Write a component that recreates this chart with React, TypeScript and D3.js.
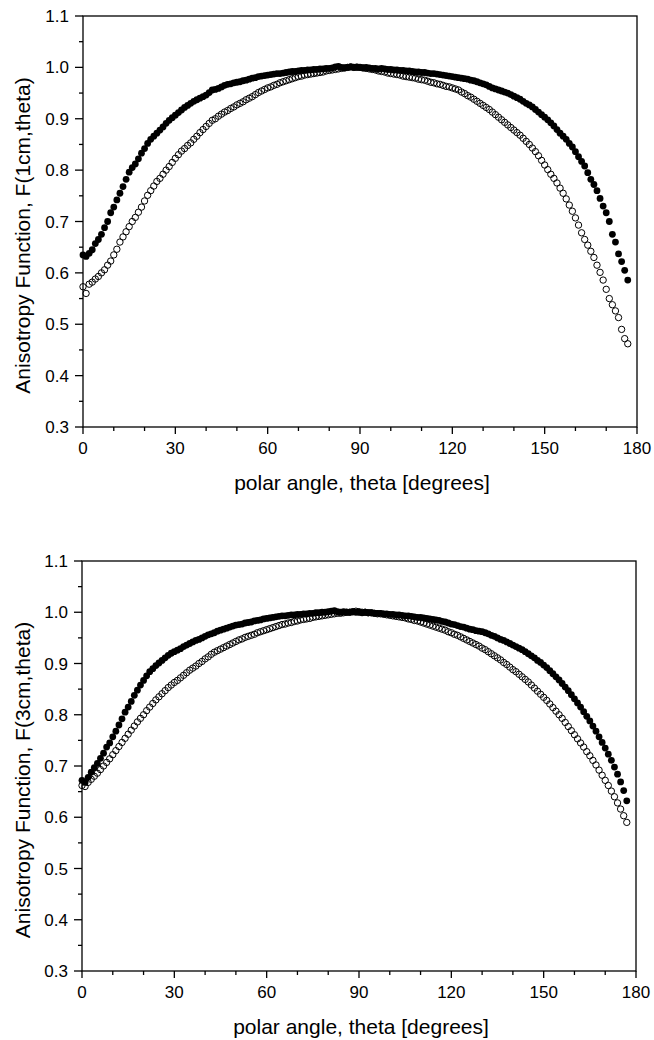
import React from "react";
import * as d3 from "d3";

const angles: number[] = d3.range(0, 178, 1);

const top1cmFilled: number[] = [
  0.635,0.632,0.638,0.645,0.657,0.665,0.675,0.688,0.700,0.717,
  0.728,0.742,0.755,0.768,0.782,0.796,0.805,0.812,0.822,0.833,
  0.842,0.852,0.860,0.866,0.872,0.878,0.884,0.891,0.897,0.902,
  0.907,0.912,0.917,0.922,0.926,0.930,0.934,0.937,0.940,0.943,
  0.946,0.951,0.956,0.957,0.959,0.962,0.965,0.967,0.968,0.970,
  0.971,0.972,0.974,0.975,0.977,0.979,0.980,0.982,0.983,0.984,
  0.985,0.986,0.987,0.988,0.988,0.989,0.990,0.991,0.992,0.992,
  0.993,0.994,0.994,0.995,0.995,0.996,0.996,0.997,0.997,0.998,
  0.998,0.999,1.001,1.002,1.000,0.999,1.000,1.001,1.000,1.001,
  1.000,0.999,1.000,0.999,0.998,0.998,0.997,0.998,0.997,0.996,
  0.996,0.995,0.995,0.994,0.994,0.993,0.993,0.992,0.991,0.991,
  0.990,0.990,0.989,0.988,0.988,0.987,0.986,0.985,0.984,0.983,
  0.982,0.981,0.980,0.979,0.978,0.977,0.975,0.974,0.972,0.970,
  0.968,0.966,0.963,0.960,0.958,0.956,0.954,0.952,0.950,0.947,
  0.944,0.941,0.938,0.934,0.930,0.927,0.923,0.918,0.913,0.908,
  0.903,0.898,0.892,0.886,0.879,0.872,0.866,0.860,0.852,0.845,
  0.836,0.826,0.817,0.808,0.795,0.782,0.772,0.760,0.745,0.730,
  0.717,0.700,0.675,0.660,0.637,0.622,0.605,0.586,
];

const top1cmOpen: number[] = [
  0.573,0.560,0.578,0.582,0.588,0.593,0.600,0.606,0.615,0.623,
  0.635,0.646,0.660,0.670,0.680,0.690,0.700,0.708,0.718,0.728,
  0.740,0.751,0.760,0.769,0.778,0.784,0.792,0.800,0.807,0.815,
  0.823,0.830,0.837,0.842,0.848,0.853,0.860,0.866,0.873,0.879,
  0.885,0.891,0.897,0.900,0.905,0.909,0.913,0.916,0.920,0.923,
  0.927,0.930,0.933,0.937,0.940,0.943,0.947,0.951,0.954,0.957,
  0.960,0.962,0.965,0.967,0.970,0.972,0.974,0.976,0.978,0.980,
  0.982,0.983,0.985,0.986,0.987,0.988,0.989,0.990,0.991,0.993,
  0.994,0.995,0.996,0.997,0.998,0.999,1.000,1.001,1.000,1.000,
  1.000,0.999,0.998,0.997,0.996,0.995,0.993,0.992,0.991,0.989,
  0.988,0.987,0.986,0.985,0.983,0.982,0.981,0.980,0.979,0.977,
  0.976,0.975,0.973,0.971,0.970,0.968,0.967,0.965,0.963,0.962,
  0.960,0.958,0.956,0.952,0.949,0.945,0.942,0.938,0.934,0.930,
  0.926,0.922,0.918,0.913,0.908,0.903,0.898,0.893,0.888,0.883,
  0.878,0.873,0.868,0.862,0.856,0.850,0.843,0.836,0.828,0.819,
  0.810,0.801,0.792,0.784,0.775,0.765,0.755,0.744,0.732,0.720,
  0.707,0.693,0.678,0.665,0.654,0.642,0.630,0.615,0.601,0.586,
  0.568,0.550,0.538,0.526,0.513,0.490,0.472,0.462,
];

const bottom3cmFilled: number[] = [
  0.672,0.668,0.678,0.688,0.697,0.705,0.715,0.725,0.737,0.745,
  0.757,0.768,0.780,0.792,0.805,0.815,0.826,0.838,0.848,0.858,
  0.867,0.876,0.884,0.890,0.896,0.901,0.906,0.911,0.916,0.920,
  0.923,0.926,0.929,0.933,0.936,0.939,0.942,0.945,0.947,0.950,
  0.953,0.956,0.958,0.960,0.963,0.965,0.967,0.969,0.971,0.973,
  0.975,0.976,0.977,0.979,0.980,0.981,0.983,0.984,0.985,0.987,
  0.988,0.989,0.990,0.991,0.992,0.993,0.993,0.994,0.995,0.995,
  0.996,0.996,0.997,0.997,0.998,0.998,0.999,0.999,1.000,1.000,
  1.001,1.002,1.003,1.001,1.000,1.001,1.000,1.000,1.001,1.000,
  1.000,0.999,1.000,0.999,0.999,0.998,0.998,0.998,0.997,0.997,
  0.996,0.996,0.995,0.995,0.994,0.993,0.993,0.992,0.991,0.990,
  0.990,0.989,0.988,0.987,0.986,0.985,0.984,0.982,0.981,0.979,
  0.977,0.976,0.974,0.972,0.971,0.969,0.967,0.966,0.964,0.963,
  0.962,0.960,0.958,0.955,0.953,0.950,0.947,0.945,0.942,0.939,
  0.936,0.933,0.930,0.927,0.923,0.919,0.915,0.911,0.906,0.902,
  0.897,0.892,0.886,0.880,0.874,0.868,0.861,0.854,0.847,0.839,
  0.831,0.823,0.815,0.806,0.797,0.788,0.778,0.768,0.757,0.746,
  0.735,0.723,0.711,0.698,0.684,0.669,0.652,0.632,
];

const bottom3cmOpen: number[] = [
  0.662,0.660,0.668,0.674,0.680,0.686,0.693,0.700,0.707,0.714,
  0.722,0.730,0.738,0.746,0.754,0.762,0.770,0.778,0.786,0.793,
  0.800,0.808,0.815,0.822,0.829,0.835,0.841,0.847,0.853,0.858,
  0.863,0.867,0.872,0.877,0.882,0.887,0.891,0.895,0.900,0.904,
  0.909,0.913,0.918,0.922,0.925,0.928,0.931,0.934,0.937,0.940,
  0.943,0.946,0.948,0.951,0.953,0.955,0.957,0.960,0.962,0.964,
  0.966,0.968,0.970,0.972,0.974,0.976,0.977,0.979,0.980,0.982,
  0.983,0.985,0.986,0.987,0.988,0.990,0.991,0.992,0.993,0.994,
  0.995,0.996,0.997,0.998,0.998,0.999,1.000,1.000,1.001,1.002,
  1.001,1.000,1.000,0.999,0.999,0.998,0.997,0.997,0.996,0.995,
  0.994,0.993,0.992,0.991,0.990,0.989,0.987,0.986,0.984,0.983,
  0.981,0.979,0.977,0.975,0.973,0.971,0.969,0.967,0.965,0.962,
  0.960,0.957,0.955,0.952,0.949,0.946,0.943,0.940,0.937,0.934,
  0.930,0.927,0.923,0.919,0.915,0.911,0.907,0.902,0.898,0.893,
  0.888,0.884,0.879,0.874,0.869,0.864,0.858,0.852,0.846,0.840,
  0.834,0.828,0.821,0.814,0.807,0.800,0.793,0.785,0.777,0.769,
  0.761,0.753,0.745,0.737,0.728,0.720,0.711,0.702,0.692,0.682,
  0.672,0.662,0.651,0.640,0.628,0.616,0.603,0.590,
];

const xMajorTicks: number[] = [0, 30, 60, 90, 120, 150, 180];
const xMinorTicks: number[] = [10, 20, 40, 50, 70, 80, 100, 110, 130, 140, 160, 170];
const yMajorTicks: number[] = [0.3, 0.4, 0.5, 0.6, 0.7, 0.8, 0.9, 1.0, 1.1];
const yMinorTicks: number[] = [0.35, 0.45, 0.55, 0.65, 0.75, 0.85, 0.95, 1.05];

const xTitle = "polar angle, theta [degrees]";
const yTitleTop = "Anisotropy Function, F(1cm,theta)";
const yTitleBottom = "Anisotropy Function, F(3cm,theta)";

const FONT = "'Liberation Sans', Arial, Helvetica, sans-serif";

interface PanelProps {
  left: number;
  right: number;
  top: number;
  bottom: number;
  filled: number[];
  open: number[];
  yTitle: string;
}

function Panel({ left, right, top, bottom, filled, open, yTitle }: PanelProps) {
  const x = d3.scaleLinear().domain([0, 180]).range([left, right]);
  const y = d3.scaleLinear().domain([0.3, 1.1]).range([bottom, top]);
  const sw = 1.3;
  return (
    <g>
      {open.map((v, i) => (
        <circle key={"o" + i} cx={x(angles[i])} cy={y(v)} r={3.2} fill="none" stroke="#000" strokeWidth={1} />
      ))}
      {filled.map((v, i) => (
        <circle key={"f" + i} cx={x(angles[i])} cy={y(v)} r={3.4} fill="#000" />
      ))}
      <rect x={left} y={top} width={right - left} height={bottom - top} fill="none" stroke="#000" strokeWidth={sw} />
      {yMajorTicks.map((t) => (
        <g key={"ym" + t}>
          <line x1={left - 8} x2={left} y1={y(t)} y2={y(t)} stroke="#000" strokeWidth={sw} />
          <text x={left - 14} y={y(t)} dy="0.36em" textAnchor="end" fontSize={17} fontFamily={FONT}>
            {t.toFixed(1)}
          </text>
        </g>
      ))}
      {yMinorTicks.map((t) => (
        <line key={"yn" + t} x1={left - 4} x2={left} y1={y(t)} y2={y(t)} stroke="#000" strokeWidth={sw} />
      ))}
      {xMajorTicks.map((t) => (
        <g key={"xm" + t}>
          <line x1={x(t)} x2={x(t)} y1={bottom} y2={bottom + 7} stroke="#000" strokeWidth={sw} />
          <text x={x(t)} y={bottom + 27} textAnchor="middle" fontSize={17} fontFamily={FONT}>
            {t}
          </text>
        </g>
      ))}
      {xMinorTicks.map((t) => (
        <line key={"xn" + t} x1={x(t)} x2={x(t)} y1={bottom} y2={bottom + 4} stroke="#000" strokeWidth={sw} />
      ))}
      <text x={(left + right) / 2 + 2} y={bottom + 63} textAnchor="middle" fontSize={21} fontFamily={FONT}>
        {xTitle}
      </text>
      <text
        transform={`translate(30, ${(top + bottom) / 2 + 14}) rotate(-90)`}
        textAnchor="middle"
        fontSize={21}
        fontFamily={FONT}
      >
        {yTitle}
      </text>
    </g>
  );
}

export default function App() {
  return (
    <svg
      width={654}
      height={1040}
      viewBox="0 0 654 1040"
      style={{ position: "absolute", left: 0, top: 0, background: "#fff" }}
    >
      <rect x={0} y={0} width={654} height={1040} fill="#fff" />
      <Panel left={83} right={637} top={16} bottom={427} filled={top1cmFilled} open={top1cmOpen} yTitle={yTitleTop} />
      <Panel left={82} right={636} top={561} bottom={971} filled={bottom3cmFilled} open={bottom3cmOpen} yTitle={yTitleBottom} />
    </svg>
  );
}
